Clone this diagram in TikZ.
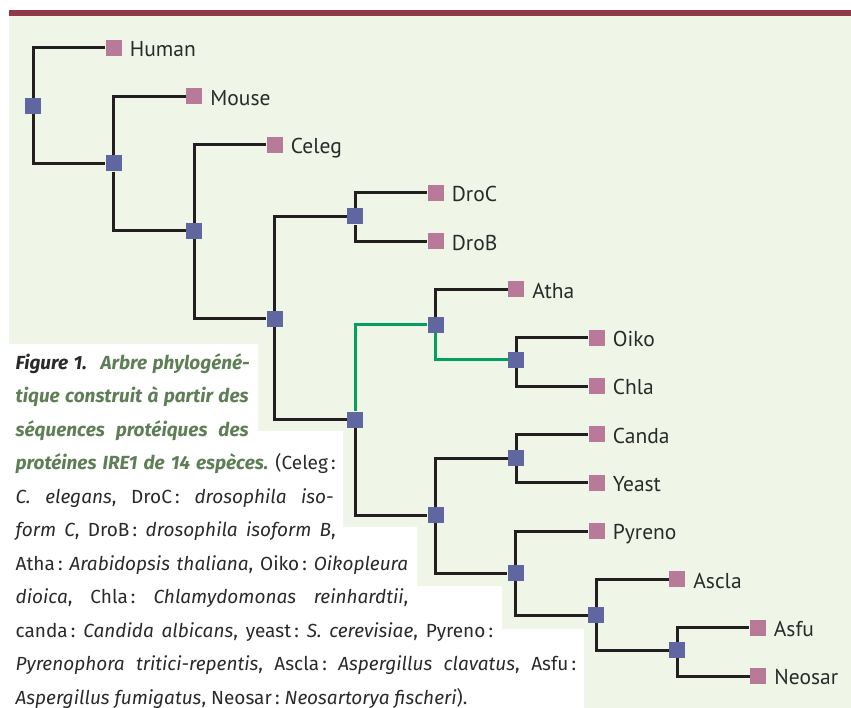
\documentclass[tikz,border=0pt]{standalone}
\usepackage{fontspec}
\setmainfont{PT Sans}
\newfontfamily\capfont{Fira Sans}
\definecolor{barred}{HTML}{8E3A48}
\definecolor{bggreen}{HTML}{EFF5E7}
\definecolor{nodeblue}{HTML}{5F66A0}
\definecolor{leafpink}{HTML}{B87A98}
\definecolor{branchblack}{HTML}{231F20}
\definecolor{hlgreen}{HTML}{00A060}
\definecolor{capgreen}{HTML}{5E7F56}
\definecolor{textgray}{HTML}{2A2A2A}
\pgfdeclarelayer{bg}
\pgfdeclarelayer{lines}
\pgfsetlayers{bg,lines,main}
\frenchspacing
\tikzset{
  inode/.style={rectangle, fill=nodeblue, minimum size=16pt, inner sep=0pt},
  leafnode/.style={rectangle, fill=leafpink, minimum size=16pt, inner sep=0pt},
  lbl/.style={anchor=base west, inner sep=0pt, font=\fontsize{21.5}{25}\selectfont, text=textgray},
  branch/.style={draw=branchblack, line width=3pt, line join=miter},
  hl/.style={draw=hlgreen, line width=3pt, line join=miter},
  capline/.style={anchor=base west, inner sep=0pt, font=\capfont\fontsize{19}{22}\selectfont, text=textgray}
}
\newcommand{\lbloff}[1]{([xshift=8pt,yshift=-8.8pt]#1.east)}
\begin{document}
\begin{tikzpicture}[x=1pt,y=-1pt]
\useasboundingbox (0,0) rectangle (851,708);
% internal nodes
\node[inode] (n1) at (33,106) {};
\node[inode] (n2) at (113.5,163.5) {};
\node[inode] (n3) at (194,231) {};
\node[inode] (n4) at (274.5,319) {};
\node[inode] (n5) at (355,216.5) {};
\node[inode] (n6) at (355,419.5) {};
\node[inode] (n7) at (435.5,325) {};
\node[inode] (n8) at (516,360) {};
\node[inode] (n9) at (435.5,515) {};
\node[inode] (n10) at (516,458) {};
\node[inode] (n11) at (515.5,573) {};
\node[inode] (n12) at (596,615) {};
\node[inode] (n13) at (677,650) {};
% leaves
\node[leafnode] (human) at (113.5,48) {};
\node[leafnode] (mouse) at (194,96.3) {};
\node[leafnode] (celeg) at (274.5,145) {};
\node[leafnode] (droc) at (435.5,193) {};
\node[leafnode] (drob) at (435.5,241.5) {};
\node[leafnode] (atha) at (516,289.5) {};
\node[leafnode] (oiko) at (596.5,338) {};
\node[leafnode] (chla) at (596.5,386) {};
\node[leafnode] (canda) at (596.5,434.4) {};
\node[leafnode] (yeast) at (596.5,482.7) {};
\node[leafnode] (pyreno) at (596.5,531) {};
\node[leafnode] (ascla) at (677,579.3) {};
\node[leafnode] (asfu) at (757.5,627.6) {};
\node[leafnode] (neosar) at (758,676) {};
% labels
\node[lbl] (lhuman) at \lbloff{human} {Human};
\node[lbl] (lmouse) at \lbloff{mouse} {Mouse};
\node[lbl] (lceleg) at \lbloff{celeg} {Celeg};
\node[lbl] (ldroc) at \lbloff{droc} {DroC};
\node[lbl] (ldrob) at \lbloff{drob} {DroB};
\node[lbl] (latha) at \lbloff{atha} {Atha};
\node[lbl] (loiko) at \lbloff{oiko} {Oiko};
\node[lbl] (lchla) at \lbloff{chla} {Chla};
\node[lbl] (lcanda) at \lbloff{canda} {Canda};
\node[lbl] (lyeast) at \lbloff{yeast} {Yeast};
\node[lbl] (lpyreno) at \lbloff{pyreno} {Pyreno};
\node[lbl] (lascla) at \lbloff{ascla} {Ascla};
\node[lbl] (lasfu) at \lbloff{asfu} {Asfu};
\node[lbl] (lneosar) at \lbloff{neosar} {Neosar};
% caption
\node[capline] (c1) at (15.5,369.3) {\makebox[234pt][s]{{\bfseries\itshape Figure 1.}\hspace{4pt plus 6pt} {\color{capgreen}\bfseries\itshape Arbre phylogéné-}}};
\node[capline] (c2) at (15.5,402.8) {\makebox[233pt][s]{\color{capgreen}\bfseries\itshape tique construit à partir des}};
\node[capline] (c3) at (15.5,436.3) {\makebox[233pt][s]{\color{capgreen}\bfseries\itshape séquences protéiques des}};
\node[capline] (c4) at (15.5,469.8) {\makebox[320pt][s]{{\color{capgreen}\bfseries\itshape protéines IRE1 de 14 espèces.} (Celeg\,:}};
\node[capline] (c5) at (15.5,503.3) {\makebox[318pt][s]{\textit{C. elegans}, DroC\,: \textit{drosophila iso-}}};
\node[capline] (c6) at (15.5,536.8) {\makebox[320pt][s]{\textit{form C}, DroB\,: \textit{drosophila isoform B},}};
\node[capline] (c7) at (15.5,570.3) {\makebox[392.5pt][s]{Atha\,: \textit{Arabidopsis thaliana}, Oiko\,: \textit{Oikopleura}}};
\node[capline] (c8) at (15.5,603.8) {\makebox[392.5pt][s]{\textit{dioica}, Chla\,: \textit{Chlamydomonas reinhardtii},}};
\node[capline] (c9) at (15.5,637.3) {\makebox[477.5pt][s]{canda\,: \textit{Candida albicans}, yeast\,: \textit{S. cerevisiae}, Pyreno\,:}};
\node[capline] (c10) at (15.5,670.8) {\makebox[560.5pt][s]{\textit{Pyrenophora tritici-repentis}, Ascla\,: \textit{Aspergillus clavatus}, Asfu\,:}};
\node[capline] (c11) at (15.5,704.3) {\textit{Aspergillus fumigatus}, Neosar\,: \textit{Neosartorya fischeri}).};
% branches
\begin{pgfonlayer}{lines}
\draw[branch] (n1) |- (human);
\draw[branch] (n1) |- (n2);
\draw[branch] (n2) |- (mouse);
\draw[branch] (n2) |- (n3);
\draw[branch] (n3) |- (celeg);
\draw[branch] (n3) |- (n4);
\draw[branch] (n4) |- (n5);
\draw[branch] (n4) |- (n6);
\draw[branch] (n5) |- (droc);
\draw[branch] (n5) |- (drob);
\draw[hl] (n6) |- (n7);
\draw[branch] (n6) |- (n9);
\draw[branch] (n7) |- (atha);
\draw[hl] (n7) |- (n8);
\draw[branch] (n8) |- (oiko);
\draw[branch] (n8) |- (chla);
\draw[branch] (n9) |- (n10);
\draw[branch] (n9) |- (n11);
\draw[branch] (n10) |- (canda);
\draw[branch] (n10) |- (yeast);
\draw[branch] (n11) |- (pyreno);
\draw[branch] (n11) |- (n12);
\draw[branch] (n12) |- (ascla);
\draw[branch] (n12) |- (n13);
\draw[branch] (n13) |- (asfu);
\draw[branch] (n13) |- (neosar);
\end{pgfonlayer}
% background
\begin{pgfonlayer}{bg}
\fill[white] (0,0) rectangle (851,708);
\fill[barred] (9,10) rectangle (851,16);
\fill[bggreen] (9,16) rectangle (851,708);
\fill[white] (0,344) -- (258,344) -- (258,431) -- (343,431) -- (343,527) -- (417,527)
  -- (417,586) -- (502,586) -- (502,629) -- (584,629) -- (584,708) -- (0,708) -- cycle;
\end{pgfonlayer}
\end{tikzpicture}
\end{document}
